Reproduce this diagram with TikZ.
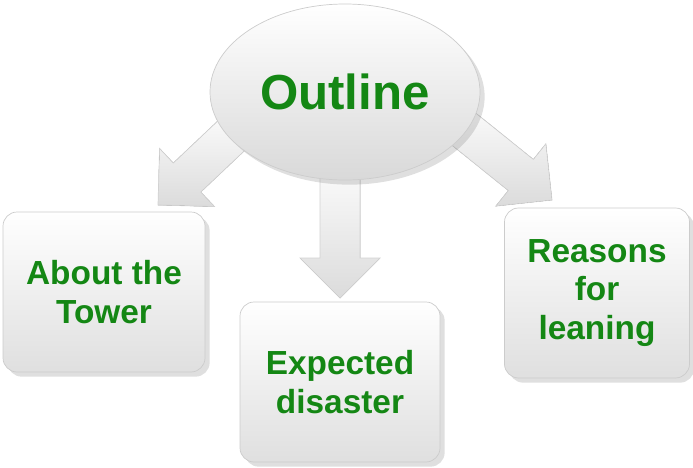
\documentclass[tikz,border=0pt]{standalone}
\usepackage{fontspec}
\setmainfont{Liberation Sans}
\usetikzlibrary{shapes.geometric,shadows,calc}
\definecolor{tg}{RGB}{20,135,20}
\newcommand{\myblockarrow}[3]{%
  \coordinate (#3h) at ($(#2)!0.8cm!(#1)$);
  \filldraw[draw=gray!35,top color=white,bottom color=gray!28]
    ($(#1)!0.4cm!90:(#2)$) -- ($(#3h)!0.4cm!-90:(#1)$) -- ($(#3h)!0.8cm!-90:(#1)$) -- (#2)
    -- ($(#3h)!0.8cm!90:(#1)$) -- ($(#3h)!0.4cm!90:(#1)$) -- ($(#1)!0.4cm!-90:(#2)$) -- cycle;}
\begin{document}
\begin{tikzpicture}[x=0.02cm,y=-0.02cm,
  box/.style={draw=gray!40,rounded corners=8pt,top color=white,bottom color=gray!25,drop shadow={opacity=0.25},font=\bfseries\fontsize{19}{22}\selectfont,text=tg,align=center,inner sep=0}]
\useasboundingbox (0,0) rectangle (693,467);
\coordinate (ls) at (250,118); \coordinate (le) at (158,205);
\coordinate (ms) at (340,150); \coordinate (me) at (340,298);
\coordinate (rs) at (440,110); \coordinate (re) at (552,200);
\myblockarrow{ls}{le}{la}
\myblockarrow{ms}{me}{ma}
\myblockarrow{rs}{re}{ra}
\node[ellipse,draw=gray!40,top color=white,bottom color=gray!30,drop shadow={opacity=0.25},minimum width=270*0.02cm,minimum height=176*0.02cm,font=\bfseries\fontsize{28}{32}\selectfont,text=tg] (o) at (345,92) {Outline};
\node[box,minimum width=202*0.02cm,minimum height=160*0.02cm] (a) at (104,292) {About the\\Tower};
\node[box,minimum width=200*0.02cm,minimum height=160*0.02cm] (b) at (340,382) {Expected\\disaster};
\node[box,minimum width=185*0.02cm,minimum height=170*0.02cm] (c) at (597,293) {Reasons\\for\\leaning};
\end{tikzpicture}
\end{document}
